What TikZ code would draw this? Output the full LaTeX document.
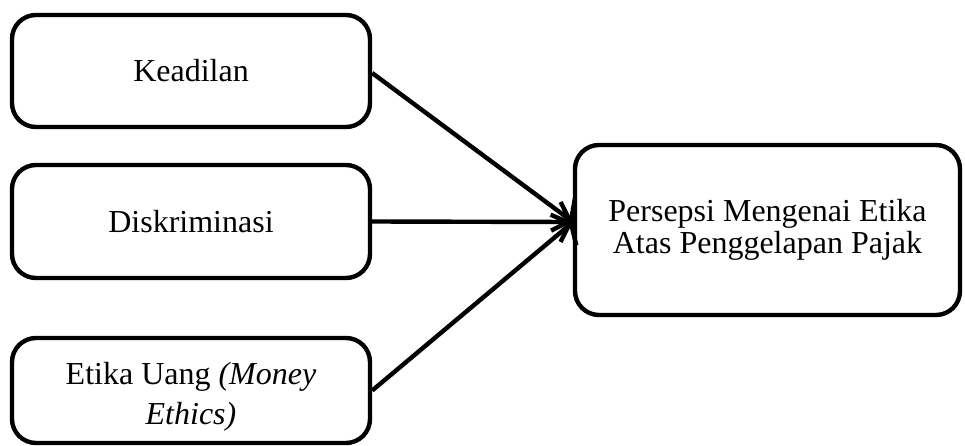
\documentclass[tikz,border=0pt]{standalone}
\usepackage{fontspec}
\setmainfont{Liberation Serif}
\usetikzlibrary{arrows.meta}
\begin{document}
\begin{tikzpicture}[x=0.5pt,y=-0.5pt,
  box/.style={draw=black, line width=2.2pt, rounded corners=12pt, align=center,
    font=\fontsize{16}{16}\selectfont, inner sep=0pt},
  conn/.style={line width=2.2pt, -{Straight Barb[length=5pt,width=20pt,line width=2.2pt]}}]
\useasboundingbox (0,0) rectangle (965,445);
\node[box, minimum width=179pt, minimum height=56pt] (k) at (191,71) {Keadilan};
\node[box, minimum width=179pt, minimum height=56.5pt] (d) at (191,221.5) {Diskriminasi};
\node[box, minimum width=179pt, minimum height=52.5pt, font=\fontsize{16}{20}\selectfont] (e) at (191,390.5) {\rule{0pt}{17pt}Etika Uang \textit{(Money}\\\textit{Ethics)}};
\node[box, minimum width=192.5pt, minimum height=85pt] (p) at (767.5,230) {Persepsi Mengenai Etika\\Atas Penggelapan Pajak};
\coordinate (tip) at (573,222);
\draw[conn] (k.east |- 0,73) -- (tip);
\draw[conn] (d.east) -- (tip);
\draw[conn] (e.east) -- (tip);
\end{tikzpicture}
\end{document}
